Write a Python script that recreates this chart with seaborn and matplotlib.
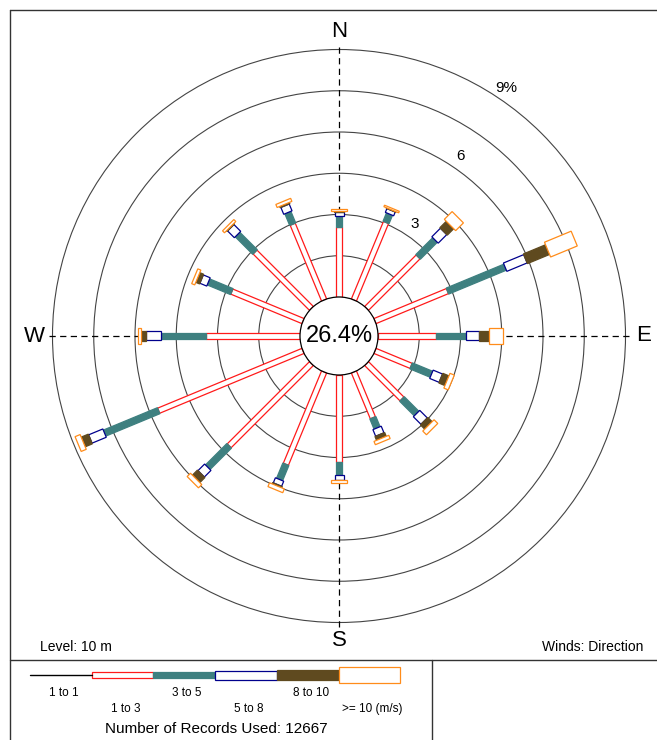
import numpy as np
import matplotlib
matplotlib.use("Agg")
import matplotlib.pyplot as plt
from matplotlib.patches import Rectangle, Circle
from matplotlib.transforms import Affine2D
import seaborn as sns

# wind rose data (percent of records)
directions = ["N", "NNE", "NE", "ENE", "E", "ESE", "SE", "SSE",
              "S", "SSW", "SW", "WSW", "W", "WNW", "NW", "NNW"]
dir_angles = [0, 22.5, 45, 67.5, 90, 112.5, 135, 157.5,
              180, 202.5, 225, 247.5, 270, 292.5, 315, 337.5]
pct_1_3 = [2.55, 3.05, 2.65, 2.85, 2.11, 1.42, 1.82, 1.80,
           3.15, 3.63, 4.23, 5.68, 3.42, 2.80, 2.90, 2.98]
pct_3_5 = [0.40, 0.33, 0.87, 2.27, 1.09, 0.80, 0.75, 0.40,
           0.48, 0.60, 1.10, 2.13, 1.64, 0.92, 0.90, 0.46]
pct_5_8 = [0.15, 0.15, 0.44, 0.80, 0.47, 0.37, 0.39, 0.26,
           0.18, 0.20, 0.34, 0.56, 0.55, 0.27, 0.35, 0.27]
pct_8_10 = [0.03, 0.02, 0.33, 0.87, 0.36, 0.24, 0.22, 0.15,
            0.02, 0.05, 0.26, 0.28, 0.18, 0.15, 0.03, 0.05]
pct_10_up = [0.08, 0.06, 0.40, 1.05, 0.51, 0.17, 0.19, 0.13,
             0.10, 0.15, 0.17, 0.20, 0.11, 0.12, 0.10, 0.12]
calm_pct = 26.4
n_records = 12667

speed_bins = ["1 to 1", "1 to 3", "3 to 5", "5 to 8", "8 to 10", ">= 10 (m/s)"]
ring_values = [1.5, 3, 4.5, 6, 7.5, 9]
ring_labels = {3: "3", 6: "6", 9: "9%"}
compass = {"N": 0, "E": 90, "S": 180, "W": 270}

# styles
PX = 27.5            # pixels per percent
CALM = 39 / PX       # calm circle radius in percent units
seg_face = ["white", "#3e8080", "white", "#5f4a1f", "white"]
seg_edge = ["#ff1a1a", "#3e8080", "#00008c", "#5f4a1f", "#ff8c1a"]
seg_width = [5.5, 6.5, 9, 10.5, 16]   # px

sns.set_theme(style="white")
plt.rcParams["font.family"] = ["Liberation Sans", "DejaVu Sans"]
plt.rcParams["text.color"] = "black"

W, H = 657, 740
fig = plt.figure(figsize=(W / 100, H / 100), dpi=100)

# frame / legend axes in pixel coords
fax = fig.add_axes([0, 0, 1, 1])
fax.set_xlim(0, W)
fax.set_ylim(H, 0)
fax.axis("off")
line_kw = dict(color="#333333", lw=1)
fax.plot([10, W], [10, 10], **line_kw)
fax.plot([10, 10], [10, H], **line_kw)
fax.plot([10, W], [660, 660], **line_kw)
fax.plot([432, 432], [660, H], **line_kw)

fax.text(40, 647, "Level: 10 m", fontsize=10, ha="left", va="center")
fax.text(643, 647, "Winds: Direction", fontsize=10, ha="right", va="center")

# legend bar
seg_len = 61.7
x0 = 30
ybar = 675
fax.plot([x0, x0 + seg_len], [ybar, ybar], color="black", lw=1)
for i in range(5):
    xs = x0 + seg_len * (i + 1)
    h = seg_width[i]
    fax.add_patch(Rectangle((xs, ybar - h / 2), seg_len, h,
                            facecolor=seg_face[i], edgecolor=seg_edge[i], lw=0.9))
for i, lab in enumerate(speed_bins):
    cx = x0 + seg_len * (i + 0.5) + 3
    cy = 693 if i % 2 == 0 else 709
    fax.text(cx, cy, lab, fontsize=8.5, ha="center", va="center")
fax.text(216, 729, f"Number of Records Used: {n_records}", fontsize=11,
         ha="center", va="center")

# rose axes in percent units
cx, cy = 339, 336
ax = fig.add_axes([0, 0, 1, 1])
ax.set_xlim(-cx / PX, (W - cx) / PX)
ax.set_ylim(-(H - cy) / PX, cy / PX)
ax.axis("off")
ax.patch.set_alpha(0)

for rv in ring_values:
    ax.add_patch(Circle((0, 0), CALM + rv, fill=False, edgecolor="#444444", lw=0.8))
for rv, lab in ring_labels.items():
    rr = CALM + rv + 13 / PX
    a = np.deg2rad(34)
    ax.text(rr * np.sin(a), rr * np.cos(a), lab, fontsize=11,
            ha="center", va="center")

reach = CALM + 9 + 4 / PX
dash = (0, (5, 3.5))
sns.lineplot(x=[0, 0], y=[-reach, reach], ax=ax, color="black", lw=0.9,
             linestyle=dash, sort=False, estimator=None)
sns.lineplot(x=[-reach, reach], y=[0, 0], ax=ax, color="black", lw=0.9,
             linestyle=dash, sort=False, estimator=None)
for lab, ang in compass.items():
    rr = CALM + 9 + 18 / PX
    a = np.deg2rad(ang)
    ax.text(rr * np.sin(a), rr * np.cos(a), lab, fontsize=16,
            ha="center", va="center")

# bars
segments = [pct_1_3, pct_3_5, pct_5_8, pct_8_10, pct_10_up]
for d, ang in enumerate(dir_angles):
    r0 = CALM
    rot = Affine2D().rotate_deg(90 - ang) + ax.transData
    for i, seg in enumerate(segments):
        L = seg[d]
        w = seg_width[i] / PX
        ax.add_patch(Rectangle((r0, -w / 2), L, w, facecolor=seg_face[i],
                               edgecolor=seg_edge[i], lw=0.9, transform=rot,
                               zorder=3))
        r0 += L

ax.add_patch(Circle((0, 0), CALM, facecolor="white", edgecolor="black",
                    lw=0.9, zorder=4))
ax.text(0, 0, f"{calm_pct}%", fontsize=17, ha="center", va="center", zorder=5)

fig.savefig("out.png", dpi=100)
